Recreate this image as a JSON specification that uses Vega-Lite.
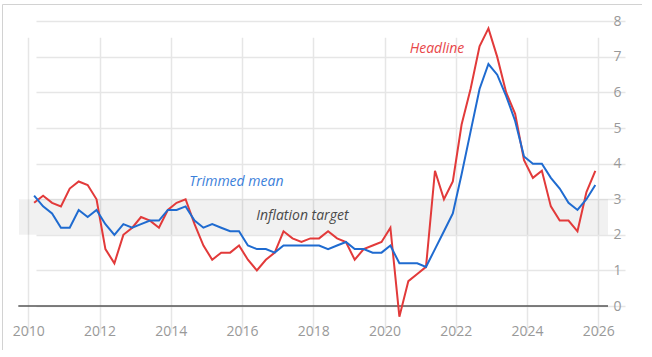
{
  "$schema": "https://vega.github.io/schema/vega-lite/v6.json",
  "width": 640,
  "height": 346,
  "autosize": "none",
  "padding": {"left": 2, "top": 4, "right": 0, "bottom": 0},
  "background": "white",
  "config": {
    "view": {"stroke": "#d2d2d2", "strokeWidth": 1},
    "font": "Open Sans"
  },
  "layer": [
    {
      "data": {"values": [{"low": 2, "high": 3}]},
      "mark": {"type": "rect", "color": "#000000", "opacity": 0.055},
      "encoding": {
        "x": {"datum": {"year": 2009, "month": 9, "date": 27}, "type": "temporal"},
        "x2": {"datum": {"year": 2026, "month": 4, "date": 10}},
        "y": {"field": "low", "type": "quantitative"},
        "y2": {"field": "high"}
      }
    },
    {
      "data": {"values": [{"zero": 0}]},
      "mark": {"type": "rule", "color": "#555555", "strokeWidth": 1.5},
      "encoding": {
        "x": {"datum": {"year": 2009, "month": 9, "date": 20}, "type": "temporal"},
        "x2": {"datum": {"year": 2026, "month": 4, "date": 10}},
        "y": {"field": "zero", "type": "quantitative"}
      }
    },
    {
      "data": {
        "values": [
          {"date": "2010/03/01", "Headline": 2.9, "Trimmed mean": 3.1},
          {"date": "2010/06/01", "Headline": 3.1, "Trimmed mean": 2.8},
          {"date": "2010/09/01", "Headline": 2.9, "Trimmed mean": 2.6},
          {"date": "2010/12/01", "Headline": 2.8, "Trimmed mean": 2.2},
          {"date": "2011/03/01", "Headline": 3.3, "Trimmed mean": 2.2},
          {"date": "2011/06/01", "Headline": 3.5, "Trimmed mean": 2.7},
          {"date": "2011/09/01", "Headline": 3.4, "Trimmed mean": 2.5},
          {"date": "2011/12/01", "Headline": 3.0, "Trimmed mean": 2.7},
          {"date": "2012/03/01", "Headline": 1.6, "Trimmed mean": 2.3},
          {"date": "2012/06/01", "Headline": 1.2, "Trimmed mean": 2.0},
          {"date": "2012/09/01", "Headline": 2.0, "Trimmed mean": 2.3},
          {"date": "2012/12/01", "Headline": 2.2, "Trimmed mean": 2.2},
          {"date": "2013/03/01", "Headline": 2.5, "Trimmed mean": 2.3},
          {"date": "2013/06/01", "Headline": 2.4, "Trimmed mean": 2.4},
          {"date": "2013/09/01", "Headline": 2.2, "Trimmed mean": 2.4},
          {"date": "2013/12/01", "Headline": 2.7, "Trimmed mean": 2.7},
          {"date": "2014/03/01", "Headline": 2.9, "Trimmed mean": 2.7},
          {"date": "2014/06/01", "Headline": 3.0, "Trimmed mean": 2.8},
          {"date": "2014/09/01", "Headline": 2.3, "Trimmed mean": 2.4},
          {"date": "2014/12/01", "Headline": 1.7, "Trimmed mean": 2.2},
          {"date": "2015/03/01", "Headline": 1.3, "Trimmed mean": 2.3},
          {"date": "2015/06/01", "Headline": 1.5, "Trimmed mean": 2.2},
          {"date": "2015/09/01", "Headline": 1.5, "Trimmed mean": 2.1},
          {"date": "2015/12/01", "Headline": 1.7, "Trimmed mean": 2.1},
          {"date": "2016/03/01", "Headline": 1.3, "Trimmed mean": 1.7},
          {"date": "2016/06/01", "Headline": 1.0, "Trimmed mean": 1.6},
          {"date": "2016/09/01", "Headline": 1.3, "Trimmed mean": 1.6},
          {"date": "2016/12/01", "Headline": 1.5, "Trimmed mean": 1.5},
          {"date": "2017/03/01", "Headline": 2.1, "Trimmed mean": 1.7},
          {"date": "2017/06/01", "Headline": 1.9, "Trimmed mean": 1.7},
          {"date": "2017/09/01", "Headline": 1.8, "Trimmed mean": 1.7},
          {"date": "2017/12/01", "Headline": 1.9, "Trimmed mean": 1.7},
          {"date": "2018/03/01", "Headline": 1.9, "Trimmed mean": 1.7},
          {"date": "2018/06/01", "Headline": 2.1, "Trimmed mean": 1.6},
          {"date": "2018/09/01", "Headline": 1.9, "Trimmed mean": 1.7},
          {"date": "2018/12/01", "Headline": 1.8, "Trimmed mean": 1.8},
          {"date": "2019/03/01", "Headline": 1.3, "Trimmed mean": 1.6},
          {"date": "2019/06/01", "Headline": 1.6, "Trimmed mean": 1.6},
          {"date": "2019/09/01", "Headline": 1.7, "Trimmed mean": 1.5},
          {"date": "2019/12/01", "Headline": 1.8, "Trimmed mean": 1.5},
          {"date": "2020/03/01", "Headline": 2.2, "Trimmed mean": 1.7},
          {"date": "2020/06/01", "Headline": -0.3, "Trimmed mean": 1.2},
          {"date": "2020/09/01", "Headline": 0.7, "Trimmed mean": 1.2},
          {"date": "2020/12/01", "Headline": 0.9, "Trimmed mean": 1.2},
          {"date": "2021/03/01", "Headline": 1.1, "Trimmed mean": 1.1},
          {"date": "2021/06/01", "Headline": 3.8, "Trimmed mean": 1.6},
          {"date": "2021/09/01", "Headline": 3.0, "Trimmed mean": 2.1},
          {"date": "2021/12/01", "Headline": 3.5, "Trimmed mean": 2.6},
          {"date": "2022/03/01", "Headline": 5.1, "Trimmed mean": 3.7},
          {"date": "2022/06/01", "Headline": 6.1, "Trimmed mean": 4.9},
          {"date": "2022/09/01", "Headline": 7.3, "Trimmed mean": 6.1},
          {"date": "2022/12/01", "Headline": 7.8, "Trimmed mean": 6.8},
          {"date": "2023/03/01", "Headline": 7.0, "Trimmed mean": 6.5},
          {"date": "2023/06/01", "Headline": 6.0, "Trimmed mean": 5.9},
          {"date": "2023/09/01", "Headline": 5.4, "Trimmed mean": 5.2},
          {"date": "2023/12/01", "Headline": 4.1, "Trimmed mean": 4.2},
          {"date": "2024/03/01", "Headline": 3.6, "Trimmed mean": 4.0},
          {"date": "2024/06/01", "Headline": 3.8, "Trimmed mean": 4.0},
          {"date": "2024/09/01", "Headline": 2.8, "Trimmed mean": 3.6},
          {"date": "2024/12/01", "Headline": 2.4, "Trimmed mean": 3.3},
          {"date": "2025/03/01", "Headline": 2.4, "Trimmed mean": 2.9},
          {"date": "2025/06/01", "Headline": 2.1, "Trimmed mean": 2.7},
          {"date": "2025/09/01", "Headline": 3.2, "Trimmed mean": 3.0},
          {"date": "2025/12/01", "Headline": 3.8, "Trimmed mean": 3.4}
        ]
      },
      "transform": [{"fold": ["Headline", "Trimmed mean"], "as": ["series", "value"]}],
      "mark": {"type": "line", "strokeWidth": 2, "clip": false},
      "encoding": {
        "x": {
          "field": "date",
          "type": "temporal",
          "scale": {
            "domain": [{"year": 2009, "month": 9, "date": 27}, {"year": 2026, "month": 4, "date": 10}],
            "range": [17, 606]
          },
          "axis": {
            "title": null,
            "orient": "bottom",
            "format": "%Y",
            "values": [
              {"year": 2010, "month": 1, "date": 1}, {"year": 2012, "month": 1, "date": 1},
              {"year": 2014, "month": 1, "date": 1}, {"year": 2016, "month": 1, "date": 1},
              {"year": 2018, "month": 1, "date": 1}, {"year": 2020, "month": 1, "date": 1},
              {"year": 2022, "month": 1, "date": 1}, {"year": 2024, "month": 1, "date": 1},
              {"year": 2026, "month": 1, "date": 1}
            ],
            "grid": true,
            "domain": false,
            "ticks": false,
            "tickSize": 0,
            "labelPadding": -26,
            "labelFont": "Open Sans",
            "labelFontSize": 14,
            "labelColor": "#999999",
            "labelFlush": false,
            "labelOverlap": false,
            "gridColor": "#e6e6e6",
            "gridWidth": 1.5
          }
        },
        "y": {
          "field": "value",
          "type": "quantitative",
          "scale": {"domain": [-0.3, 8], "range": [312.7, 17.3], "nice": false, "zero": false},
          "axis": {
            "title": null,
            "orient": "right",
            "values": [0, 1, 2, 3, 4, 5, 6, 7, 8],
            "grid": true,
            "domain": false,
            "ticks": false,
            "tickSize": 0,
            "labelPadding": -29,
            "labelFont": "Open Sans",
            "labelFontSize": 14,
            "labelColor": "#999999",
            "labelAlign": "left",
            "labelFlush": false,
            "gridColor": "#e6e6e6",
            "gridWidth": 1.5
          }
        },
        "color": {
          "field": "series",
          "type": "nominal",
          "scale": {"domain": ["Headline", "Trimmed mean"], "range": ["#e23a3a", "#1f6bd0"]},
          "legend": null
        }
      }
    },
    {
      "data": {
        "values": [
          {"label": "Headline", "date": "2021/06/21", "value": 7.22, "kind": "Headline"},
          {"label": "Trimmed mean", "date": "2015/11/03", "value": 3.48, "kind": "Trimmed mean"},
          {"label": "Inflation target", "date": "2017/09/10", "value": 2.53, "kind": "Inflation target"}
        ]
      },
      "mark": {"type": "text", "font": "Open Sans", "fontSize": 14, "fontStyle": "italic", "align": "center", "baseline": "middle"},
      "encoding": {
        "x": {"field": "date", "type": "temporal"},
        "y": {"field": "value", "type": "quantitative"},
        "text": {"field": "label"},
        "color": {
          "field": "kind",
          "type": "nominal",
          "scale": {"domain": ["Headline", "Trimmed mean", "Inflation target"], "range": ["#e8474a", "#3b80da", "#4a4a4a"]},
          "legend": null
        }
      }
    }
  ],
  "resolve": {"scale": {"color": "independent"}}
}
